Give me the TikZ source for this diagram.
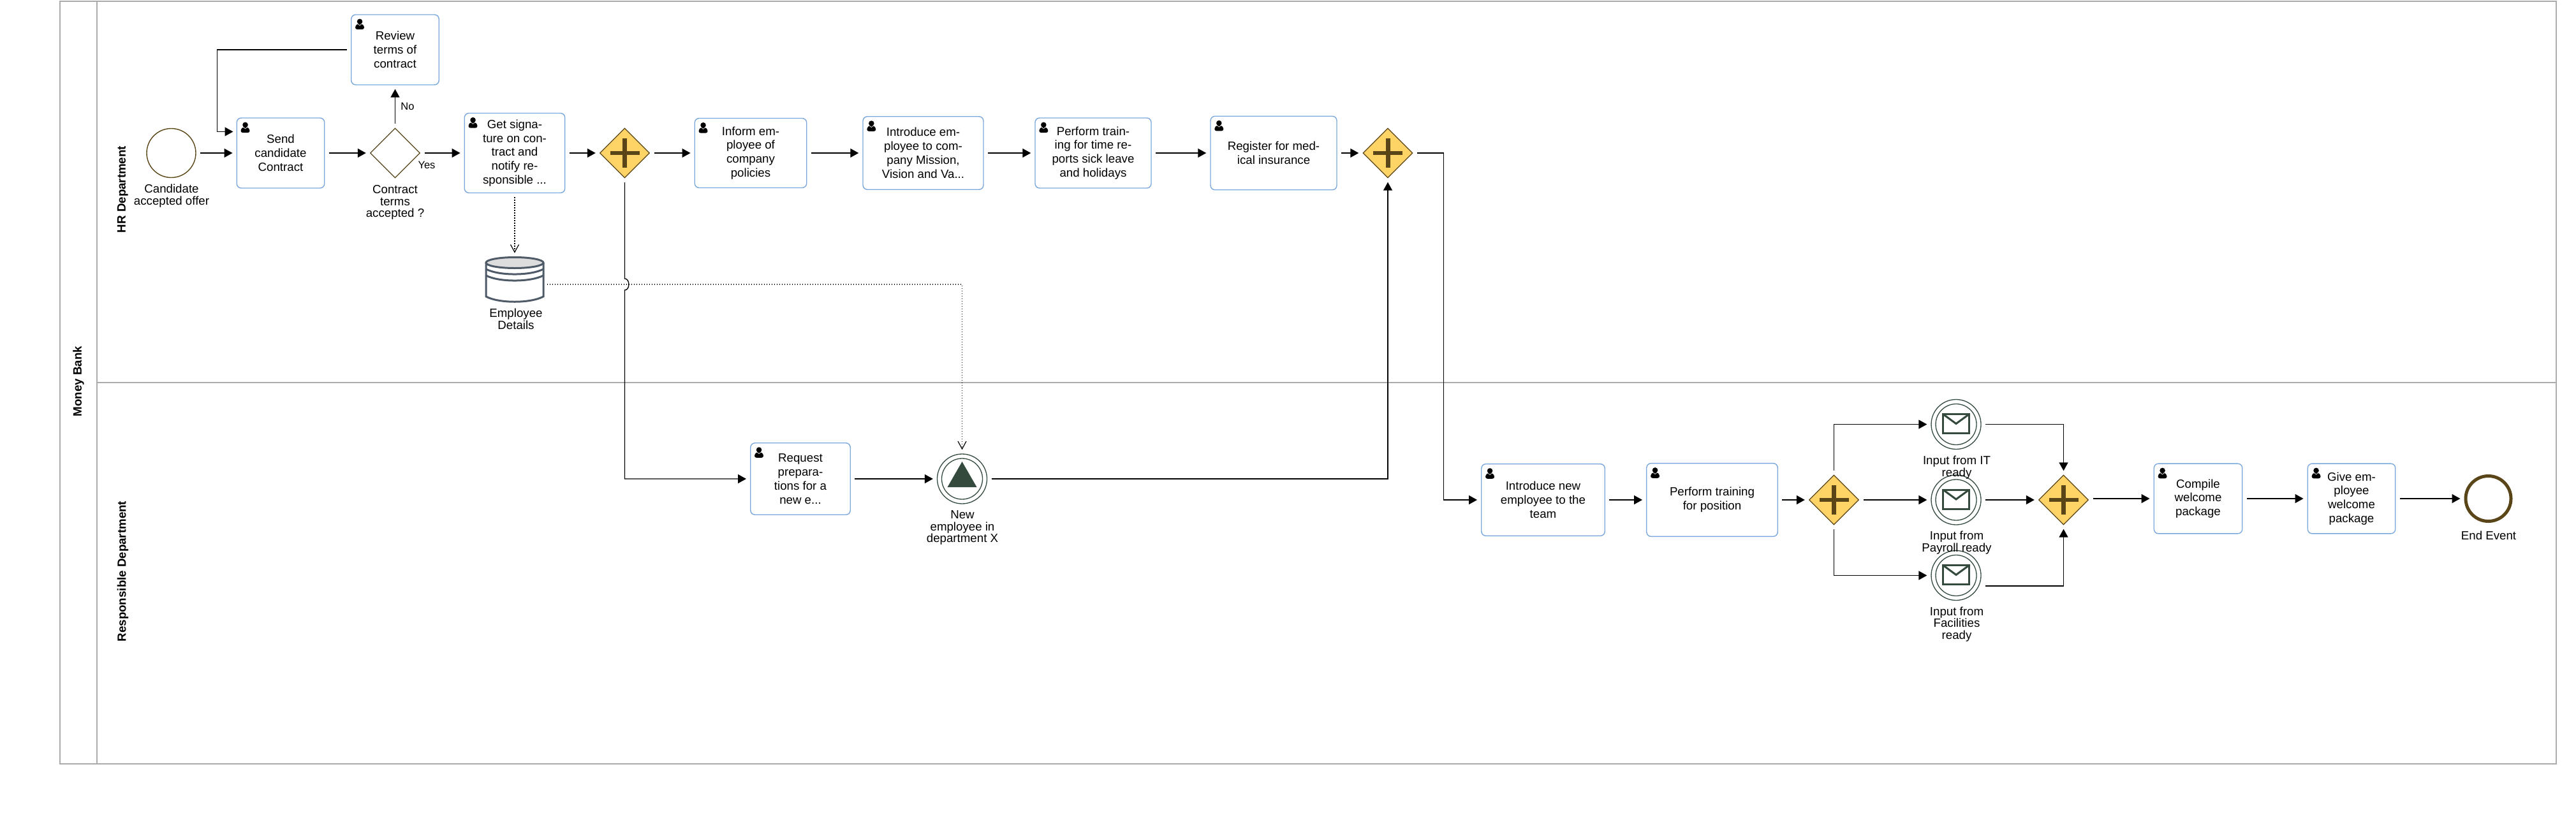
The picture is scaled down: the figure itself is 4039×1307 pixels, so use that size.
\documentclass[tikz,border=0pt]{standalone}
\usepackage{fontspec}
\setmainfont{Liberation Sans}
\usetikzlibrary{arrows.meta,shapes.geometric}
\definecolor{taskblue}{HTML}{7AA8DC}
\definecolor{gwfill}{HTML}{FFD466}
\definecolor{gwdark}{HTML}{5A4518}
\definecolor{evgreen}{HTML}{334A3D}
\definecolor{poolgrey}{HTML}{ABABAB}
\definecolor{storeline}{HTML}{4E5A68}
\definecolor{storecap}{HTML}{DDDDDD}
\tikzset{
  usertask/.style={draw=taskblue,fill=white,line width=1.4,rectangle,rounded corners=7,inner sep=0,align=center,font=\fontsize{18.7}{21.8}\selectfont},
  gwbase/.style={diamond,aspect=1,draw=gwdark,line width=1.3,inner sep=0,minimum size=78},
  plaingw/.style={gwbase,fill=white},
  parallelgw/.style={gwbase,fill=gwfill},
  startev/.style={circle,draw=gwdark,fill=white,line width=1.4,inner sep=0,minimum size=77},
  endev/.style={circle,draw=gwdark,fill=white,line width=5,inner sep=0,minimum size=71},
  catchev/.style={circle,draw=evgreen,fill=white,line width=1.3,inner sep=0,minimum size=78},
  storebox/.style={rectangle,inner sep=0,minimum width=93,minimum height=72},
  evlabel/.style={align=center,inner sep=0,font=\fontsize{18.7}{18.8}\selectfont},
  flowlabel/.style={inner sep=0,font=\fontsize{16.5}{18}\selectfont},
  lanelabel/.style={rotate=90,inner sep=0,font=\fontsize{18.7}{20}\selectfont\bfseries},
  flow/.style={draw=black,line width=1.4,-{Triangle[length=13,width=14]},shorten >=6,shorten <=6.5},
  assoc/.style={draw=black,line width=1.2,dash pattern=on 1.3 off 2.7,-{Straight Barb[length=12,width=13]},shorten >=6,shorten <=6},
  personicon/.pic={
    \fill[black] (14,11.5) circle (4.3);
    \fill[black,rounded corners=3] (7,23.8) -- (7,18) -- (11,15) -- (17,15) -- (21,18) -- (21,23.8) -- cycle;
    \draw[white,line width=0.6] (11.5,15.6) -- (14,17.6) -- (16.5,15.6);
  },
  gwplus/.pic={
    \fill[gwdark] (-3.5,-23) rectangle (3.5,23);
    \fill[gwdark] (-23,-3.4) rectangle (23,3.4);
  },
  ringinner/.pic={
    \draw[evgreen,line width=1.3] (0,0) circle (32);
  },
  envelope/.pic={
    \draw[evgreen,line width=3] (-20.5,-16) rectangle (20.5,14);
    \draw[evgreen,line width=3] (-20.5,-16) -- (0,-1) -- (20.5,-16);
  },
  hiretriangle/.pic={
    \fill[evgreen] (0,-27) -- (23,13) -- (-23,13) -- cycle;
  },
  datastore/.pic={
    \draw[storeline,line width=3,fill=white] (-45,-27) -- (-45,26) .. controls (-25,37) and (25,37) .. (45,26) -- (45,-27);
    \draw[storeline,line width=3] (-45,-17) .. controls (-25,-6.3) and (25,-6.3) .. (45,-17);
    \draw[storeline,line width=3] (-45,-7) .. controls (-25,3.7) and (25,3.7) .. (45,-7);
    \draw[storeline,line width=3,fill=storecap] (0,-27) ellipse (45 and 8.5);
  }
}
\begin{document}
\begin{tikzpicture}[x=1pt,y=-1pt]
\useasboundingbox (0,0) rectangle (4039,1307);

\draw[poolgrey,line width=2] (94,1.5) rectangle (4008,1198);
\draw[poolgrey,line width=2] (151.5,1.5) -- (151.5,1198);
\draw[poolgrey,line width=2] (151.5,600) -- (4008,600);
\node[lanelabel] (bank) at (123,598) {Money Bank};
\node[lanelabel] (hr) at (192.5,297) {HR Department};
\node[lanelabel] (resp) at (192.5,896) {Responsible Department};

\node[startev] (offer) at (268.5,240) {};
\node[usertask,minimum width=137.5,minimum height=110] (send) at (440,240) {Send\\candidate\\Contract};
\node[usertask,minimum width=137.5,minimum height=110] (review) at (619.5,78) {Review\\terms of\\contract};
\node[plaingw] (accepted) at (619.5,240) {};
\node[usertask,minimum width=157.5,minimum height=125] (signature) at (807,240) {Get signa-\\ture on con-\\tract and\\notify re-\\sponsible ...};
\node[parallelgw] (splithr) at (979.5,240) {};
\node[usertask,minimum width=175.5,minimum height=109] (inform) at (1177,240) {Inform em-\\ployee of\\company\\policies};
\node[usertask,minimum width=189,minimum height=114.5] (mission) at (1447.5,240) {Introduce em-\\ployee to com-\\pany Mission,\\Vision and Va...};
\node[usertask,minimum width=182,minimum height=110] (holidays) at (1714,240) {Perform train-\\ing for time re-\\ports sick leave\\and holidays};
\node[usertask,minimum width=198,minimum height=115.5] (insurance) at (1997,240) {Register for med-\\ical insurance};
\node[parallelgw] (joinhr) at (2176,240) {};

\node[storebox] (details) at (807,439) {};
\pic at (details) {datastore};

\node[usertask,minimum width=156.5,minimum height=112.5] (request) at (1255,751) {Request\\prepara-\\tions for a\\new e...};
\node[catchev] (newemp) at (1508.5,751) {};
\node[usertask,minimum width=193.5,minimum height=112.7] (team) at (2419.5,784) {Introduce new\\employee to the\\team};
\node[usertask,minimum width=205.5,minimum height=114.7] (training) at (2684.5,784) {Perform training\\for position};
\node[parallelgw] (splitinput) at (2875.5,784) {};
\node[catchev] (itready) at (3067,665.5) {};
\node[catchev] (payroll) at (3067,784) {};
\node[catchev] (facilities) at (3067,902.5) {};
\node[parallelgw] (joininput) at (3235.5,784) {};
\node[usertask,minimum width=138.5,minimum height=109.7] (compile) at (3446.5,782) {Compile\\welcome\\package};
\node[usertask,minimum width=137.5,minimum height=109.7] (give) at (3687,782) {Give em-\\ployee\\welcome\\package};
\node[endev] (finish) at (3901.5,782) {};

\foreach \t in {send,review,signature,inform,mission,holidays,insurance,request,team,training,compile,give}
  \pic at (\t.north west) {personicon};
\foreach \g in {splithr,joinhr,splitinput,joininput}
  \pic at (\g) {gwplus};
\foreach \e in {newemp,itready,payroll,facilities}
  \pic at (\e) {ringinner};
\foreach \e in {itready,payroll,facilities}
  \pic at (\e) {envelope};
\pic at (newemp) {hiretriangle};

\coordinate (sendin) at (371.5,206.5);
\coordinate (reviewbend) at (340.5,206.5);
\coordinate (detailsout) at (852,446);
\coordinate (jumpa) at (979.5,437);
\coordinate (jumpb) at (979.5,455);
\coordinate (facout) at (3106,919);

\draw[assoc] (signature) -- (details);
\draw[assoc] (detailsout) -| (newemp.north);

\draw[flow] (offer) -- (send);
\draw[flow] (send) -- (accepted);
\draw[flow] (accepted) -- (signature);
\draw[flow] (accepted) -- (review);
\draw[flow] (review.west) -| (reviewbend) -- (sendin);
\draw[flow] (signature) -- (splithr);
\draw[flow] (splithr) -- (inform);
\draw[flow] (inform) -- (mission);
\draw[flow] (mission) -- (holidays);
\draw[flow] (holidays) -- (insurance);
\draw[flow] (insurance) -- (joinhr);
\draw[flow] (splithr.south) -- (jumpa) .. controls (988,437) and (988,455) .. (jumpb) |- (request.west);
\draw[flow] (request) -- (newemp);
\draw[flow] (newemp.east) -| (joinhr.south);
\draw[flow] (joinhr.east) -- ++(48,0) |- (team.west);
\draw[flow] (team) -- (training);
\draw[flow] (training) -- (splitinput);
\draw[flow] (splitinput.north) |- (itready.west);
\draw[flow] (splitinput) -- (payroll);
\draw[flow] (splitinput.south) |- (facilities.west);
\draw[flow] (itready.east) -| (joininput.north);
\draw[flow] (payroll) -- (joininput);
\draw[flow] (facout) -| (joininput.south);
\draw[flow] (compile.west -| joininput.east) -- (compile.west);
\draw[flow] (compile) -- (give);
\draw[flow] (give) -- (finish);

\node[evlabel] (offertext) at (269,307.5) {Candidate\\accepted offer};
\node[evlabel] (acceptedtext) at (619.5,317.5) {Contract\\terms\\accepted ?};
\node[flowlabel] (notext) at (639,166.5) {No};
\node[flowlabel] (yestext) at (669,258.5) {Yes};
\node[evlabel] (detailstext) at (809,500) {Employee\\Details};
\node[evlabel] (newemptext) at (1509,827.5) {New\\employee in\\department X};
\node[evlabel] (ittext) at (3068,733) {Input from IT\\ready};
\node[evlabel] (payrolltext) at (3068,851.5) {Input from\\Payroll ready};
\node[evlabel] (facilitiestext) at (3068,979) {Input from\\Facilities\\ready};
\node[evlabel] (endtext) at (3902,840) {End Event};
\end{tikzpicture}
\end{document}
